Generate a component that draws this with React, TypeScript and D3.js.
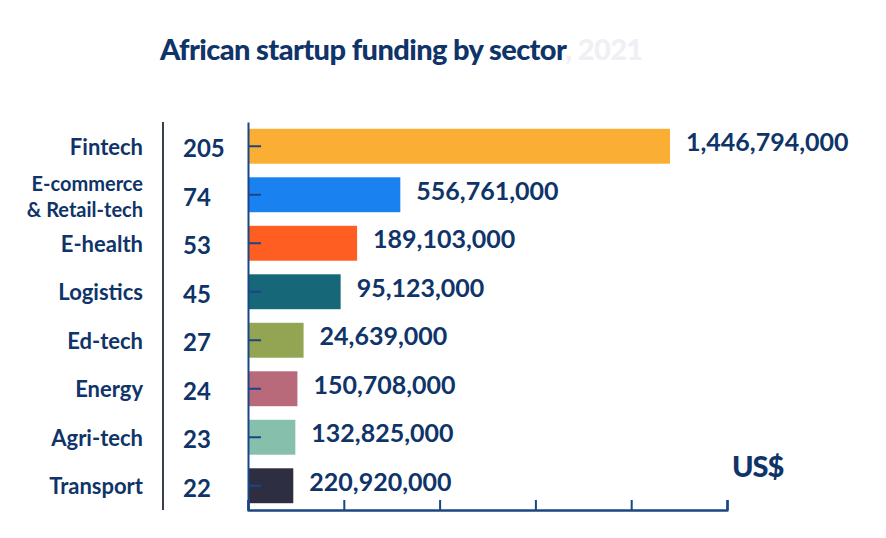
import React, { useEffect, useRef } from 'react'
import * as d3 from 'd3'

const sectors = [
  'Fintech',
  'E-commerce & Retail-tech',
  'E-health',
  'Logistics',
  'Ed-tech',
  'Energy',
  'Agri-tech',
  'Transport',
]
const deals = [205, 74, 53, 45, 27, 24, 23, 22]
const funding = [
  1446794000, 556761000, 189103000, 95123000, 24639000, 150708000, 132825000, 220920000,
]
const colors = [
  '#fbae34',
  '#1a82f0',
  '#ff5e22',
  '#166878',
  '#93a552',
  '#b8697a',
  '#86c0ad',
  '#2d2e42',
]

const NAVY = '#0f3469'
const FONT = 'Lato, "Open Sans", sans-serif'

export default function App() {
  const svgRef = useRef<SVGSVGElement>(null)

  useEffect(() => {
    if (!svgRef.current) return
    const svg = d3.select(svgRef.current)
    svg.selectAll('*').remove()

    const width = 886
    const height = 538
    svg.attr('width', width).attr('height', height)

    const x = d3.scaleLinear().domain([0, 232.7]).range([248, 727])
    const y = d3
      .scaleBand<string>()
      .domain(sectors)
      .range([122, 510])
      .paddingInner(0.28)
      .paddingOuter(0.14)

    // title
    const title = svg
      .append('text')
      .attr('x', 160)
      .attr('y', 60)
      .style('font-family', FONT)
      .style('font-size', '29px')
      .style('font-weight', 900)
      .style('fill', NAVY)
      .style('letter-spacing', '-0.6px')
    title.append('tspan').text('African startup funding by sector')
    title.append('tspan').style('fill', '#eef0f4').text(', 2021')

    // separator between names and deal counts
    svg
      .append('line')
      .attr('x1', 163)
      .attr('x2', 163)
      .attr('y1', 122)
      .attr('y2', 510)
      .attr('stroke', '#3a3f4f')
      .attr('stroke-width', 2)

    // bars
    svg
      .append('g')
      .selectAll('rect')
      .data(sectors)
      .join('rect')
      .attr('x', x(0))
      .attr('y', (d) => y(d)!)
      .attr('width', (d, i) => x(deals[i]) - x(0))
      .attr('height', y.bandwidth())
      .attr('fill', (d, i) => colors[i])

    // left axis with inward ticks
    const yAxis = svg
      .append('g')
      .attr('transform', `translate(${x(0)},0)`)
      .call(d3.axisLeft(y).tickSize(-13).tickSizeOuter(0).tickFormat(() => ''))
    yAxis.select('.domain').attr('stroke', '#1b4683').attr('stroke-width', 2)
    yAxis.selectAll('.tick line').attr('stroke', '#1b4683').attr('stroke-width', 2)

    // bottom axis
    const step = 232.7 / 5
    const xAxis = svg
      .append('g')
      .attr('transform', 'translate(0,510)')
      .call(
        d3
          .axisBottom(x)
          .tickValues(d3.range(0, 6).map((i) => i * step))
          .tickSize(-10)
          .tickSizeOuter(-10)
          .tickFormat(() => '')
      )
    xAxis
      .select('.domain')
      .attr('stroke', '#1b4683')
      .attr('stroke-width', 2.5)
      .attr('stroke-linejoin', 'round')
    xAxis.selectAll('.tick line').attr('stroke', '#1b4683').attr('stroke-width', 2)

    // sector names
    sectors.forEach((name, i) => {
      const cy = y(name)! + y.bandwidth() / 2
      const parts = name.split(' & ')
      if (parts.length > 1) {
        svg
          .append('text')
          .attr('x', 143)
          .attr('y', cy - 4)
          .attr('text-anchor', 'end')
          .style('font-family', FONT)
          .style('font-size', '20px')
          .style('font-weight', 700)
          .style('fill', NAVY)
          .text(parts[0])
        svg
          .append('text')
          .attr('x', 143)
          .attr('y', cy + 22)
          .attr('text-anchor', 'end')
          .style('font-family', FONT)
          .style('font-size', '20px')
          .style('font-weight', 700)
          .style('fill', NAVY)
          .text('& ' + parts[1])
      } else {
        svg
          .append('text')
          .attr('x', 143)
          .attr('y', cy + 8.5)
          .attr('text-anchor', 'end')
          .style('font-family', FONT)
          .style('font-size', '22px')
          .style('font-weight', 700)
          .style('fill', NAVY)
          .text(name)
      }
    })

    // deal counts
    svg
      .append('g')
      .selectAll('text')
      .data(sectors)
      .join('text')
      .attr('x', 183)
      .attr('y', (d) => y(d)! + y.bandwidth() / 2 + 11)
      .style('font-family', FONT)
      .style('font-size', '24px')
      .style('font-weight', 700)
      .style('fill', NAVY)
      .text((d, i) => deals[i])

    // funding amounts
    svg
      .append('g')
      .selectAll('text')
      .data(sectors)
      .join('text')
      .attr('x', (d, i) => x(deals[i]) + 16)
      .attr('y', (d) => y(d)! + y.bandwidth() / 2 + 5)
      .style('font-family', FONT)
      .style('font-size', '25px')
      .style('font-weight', 700)
      .style('fill', NAVY)
      .text((d, i) => d3.format(',')(funding[i]))

    svg
      .append('text')
      .attr('x', 732)
      .attr('y', 477)
      .style('font-family', FONT)
      .style('font-size', '29px')
      .style('font-weight', 900)
      .style('fill', NAVY)
      .style('letter-spacing', '-1px')
      .text('US$')
  }, [])

  return (
    <div style={{ position: 'fixed', left: 0, top: 0, background: '#fff' }}>
      <svg ref={svgRef} width="886" height="538" />
    </div>
  )
}
